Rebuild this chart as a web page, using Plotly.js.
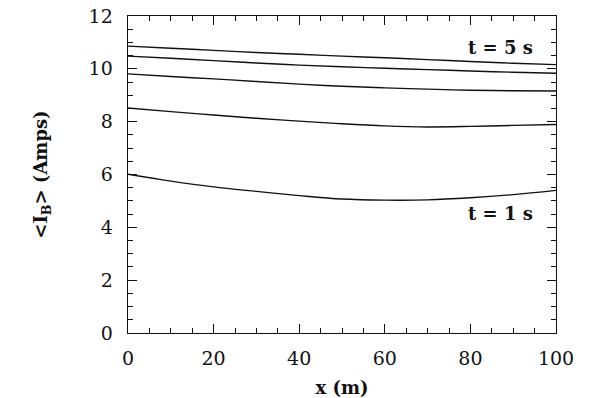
<!DOCTYPE html>
<html>
<head>
<meta charset="utf-8">
<script src="https://cdn.plot.ly/plotly-3.0.1.min.js"></script>
<style>
  html, body { margin: 0; padding: 0; background: #fff; }
  #chart { width: 600px; height: 398px; }
</style>
</head>
<body>
<div id="chart"></div>
<script>
// Position along the line (m)
const xPos = [0, 10, 20, 30, 40, 50, 60, 70, 80, 90, 100];

// Mean current <I_B> (A) at successive times, t = 1 s ... t = 5 s
const iT1 = [6.01, 5.75, 5.53, 5.36, 5.20, 5.07, 5.03, 5.04, 5.12, 5.24, 5.40];
const iT2 = [8.52, 8.38, 8.25, 8.13, 8.02, 7.92, 7.84, 7.80, 7.82, 7.86, 7.89];
const iT3 = [9.81, 9.71, 9.62, 9.52, 9.42, 9.34, 9.28, 9.23, 9.19, 9.17, 9.16];
const iT4 = [10.48, 10.40, 10.31, 10.22, 10.14, 10.08, 10.02, 9.97, 9.92, 9.87, 9.83];
const iT5 = [10.86, 10.78, 10.70, 10.62, 10.55, 10.48, 10.42, 10.35, 10.28, 10.21, 10.16];

const seriesNames = ['t = 1 s', 't = 2 s', 't = 3 s', 't = 4 s', 't = 5 s'];
const seriesVals = [iT1, iT2, iT3, iT4, iT5];

const serif = 'DejaVu Serif, Liberation Serif, serif';

const traces = seriesVals.map((ys, i) => ({
  x: xPos,
  y: ys,
  type: 'scatter',
  mode: 'lines',
  name: seriesNames[i],
  line: { color: '#111', width: 1.4, shape: 'spline', smoothing: 1 },
  hoverinfo: 'skip'
}));

const axisCommon = {
  showgrid: false,
  zeroline: false,
  showline: true,
  linecolor: '#111',
  linewidth: 1.4,
  mirror: 'allticks',
  ticks: 'inside',
  tickcolor: '#111',
  tickwidth: 1,
  ticklen: 9,
  tickfont: { family: serif, size: 19, color: '#111' }
};

const layout = {
  width: 600,
  height: 398,
  margin: { l: 128, r: 44, t: 16, b: 65 },
  paper_bgcolor: '#fff',
  plot_bgcolor: '#fff',
  showlegend: false,
  xaxis: Object.assign({}, axisCommon, {
    range: [0, 100],
    dtick: 20,
    ticklabelstandoff: 8,
    minor: { dtick: 5, ticks: 'inside', ticklen: 5, tickcolor: '#111', tickwidth: 1 },
    title: { text: '<b>x (m)</b>', font: { family: serif, size: 18, color: '#111' }, standoff: 13 }
  }),
  yaxis: Object.assign({}, axisCommon, {
    range: [0, 12],
    dtick: 2,
    ticklabelstandoff: 10,
    minor: { dtick: 0.5, ticks: 'inside', ticklen: 5, tickcolor: '#111', tickwidth: 1 },
    title: { text: '<b>&lt;I<sub>B</sub>&gt; (Amps)</b>', font: { family: serif, size: 18, color: '#111' }, standoff: 36 }
  }),
  annotations: [
    { x: 87, y: 10.81, xref: 'x', yref: 'y', text: '<b>t = 5 s</b>', showarrow: false,
      font: { family: serif, size: 18, color: '#111' } },
    { x: 87, y: 4.54, xref: 'x', yref: 'y', text: '<b>t = 1 s</b>', showarrow: false,
      font: { family: serif, size: 18, color: '#111' } }
  ]
};

Plotly.newPlot('chart', traces, layout, { displayModeBar: false, staticPlot: true });
</script>
</body>
</html>
